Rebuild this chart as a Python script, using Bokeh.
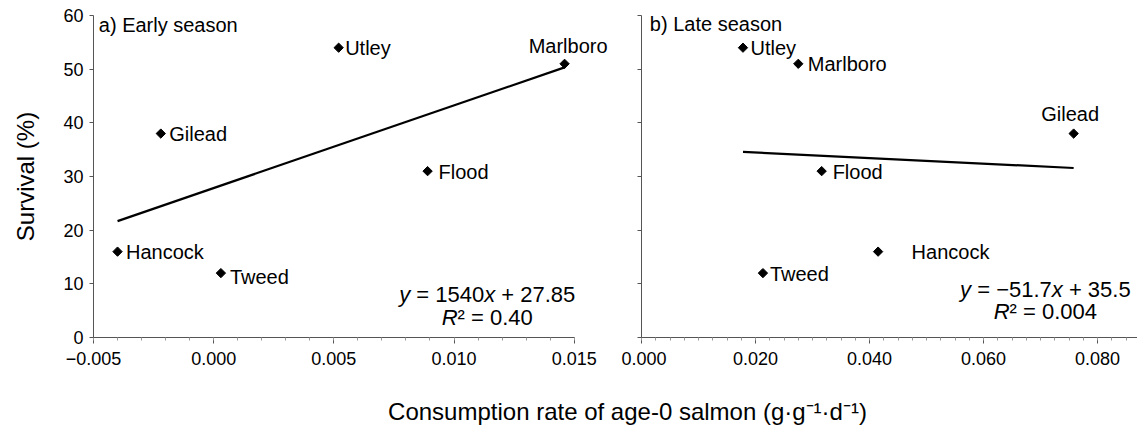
import numpy as np
from bokeh.plotting import figure
from bokeh.layouts import row, column
from bokeh.models import (Range1d, FixedTicker, CustomJSTickFormatter, Label,
                          LabelSet, ColumnDataSource)
from bokeh.core.properties import value
from bokeh.embed import file_html
from bokeh.resources import INLINE

# ---------------- data ----------------
sites = ["Hancock", "Gilead", "Tweed", "Utley", "Flood", "Marlboro"]
early_rate = [-0.0040, -0.0022, 0.0003, 0.0052, 0.0089, 0.0146]
early_survival = [16, 38, 12, 54, 31, 51]
late_rate = [0.0415, 0.0758, 0.0213, 0.0178, 0.0316, 0.0275]
late_survival = [16, 38, 12, 54, 31, 51]
early_slope, early_intercept = 1540.0, 27.85
late_slope, late_intercept = -51.7, 35.5
# equation text pieces: (text, italic?)
early_eq = [[("y", True), (" = 1540", False), ("x", True), (" + 27.85", False)],
            [("R", True), ("² = 0.40", False)]]
late_eq = [[("y", True), (" = −51.7", False), ("x", True), (" + 35.5", False)],
           [("R", True), ("² = 0.004", False)]]
early_xticks = [-0.005, 0.000, 0.005, 0.010, 0.015]
late_xticks = [0.000, 0.020, 0.040, 0.060, 0.080]
y_ticks = [0, 10, 20, 30, 40, 50, 60]
panel_titles = ["a) Early season", "b) Late season"]
y_label = "Survival (%)"
x_label = "Consumption rate of age-0 salmon (g·g⁻¹·d⁻¹)"

# ---------------- styling / layout ----------------
FONT = "Liberation Sans"
AX = "#555555"
MINOR = "#999999"
EQ_SIZE = 22
# Arial-metric advance widths (per 1000 em) for equation characters
ADV = {d: 556 for d in "0123456789"}
ADV.update({".": 278, " ": 278, "=": 584, "+": 584, "−": 584, "y": 500,
            "x": 500, "R": 722, "²": 333})

# label offsets (px): dx, dy (up positive), align
early_lab = {"Hancock": (8.5, 0, "left"), "Gilead": (8.5, 0, "left"),
             "Tweed": (9, -4, "left"), "Utley": (6.5, 0, "left"),
             "Flood": (11, -1, "left"), "Marlboro": (3.5, 18, "center")}
late_lab = {"Hancock": (33.5, 0, "left"), "Gilead": (-3.5, 20, "center"),
            "Tweed": (7, -1, "left"), "Utley": (7.5, 0, "left"),
            "Flood": (11, -1, "left"), "Marlboro": (9.5, 0, "left")}

fmt = CustomJSTickFormatter(code="""
    const v = Math.abs(tick) < 1e-12 ? 0 : tick;
    return (v < 0 ? '\\u2212' : '') + Math.abs(v).toFixed(3);
""")


def seg_width(s):
    return sum(ADV.get(c, 556) for c in s) * EQ_SIZE / 1000.0


def add_equation(p, lines, cx, ys):
    for pieces, yy in zip(lines, ys):
        total = sum(seg_width(t) for t, _ in pieces)
        off = -total / 2.0
        for t, ital in pieces:
            lead = len(t) - len(t.lstrip(" "))
            off += seg_width(" " * lead)
            core = t.strip(" ")
            p.add_layout(Label(x=cx, y=yy, x_offset=off, text=core,
                               text_font=FONT,
                               text_font_size=f"{EQ_SIZE}px",
                               text_font_style="italic" if ital else "normal",
                               text_baseline="middle", text_align="left",
                               text_color="black"))
            off += seg_width(t.lstrip(" "))


def make_panel(rate, surv, slope, intercept, eq, eq_pos, title, title_pos,
               xr, xbounds, xticks, minor_step, width, bl, br, offsets,
               show_y):
    p = figure(width=width, height=398, x_range=Range1d(*xr),
               y_range=Range1d(0, 60), output_backend="svg",
               toolbar_location=None, min_border_left=bl, min_border_right=br,
               min_border_top=15, min_border_bottom=61,
               outline_line_color=None, background_fill_color="white",
               border_fill_color="white")
    p.grid.visible = False

    minors = np.round(np.arange(xbounds[0], xbounds[1] + 1e-9, minor_step),
                      5).tolist()
    p.xaxis.bounds = xbounds
    p.xaxis.ticker = FixedTicker(ticks=xticks, minor_ticks=minors)
    p.xaxis.formatter = fmt
    p.xaxis.major_tick_out = 6
    p.xaxis.major_tick_in = 0
    p.xaxis.minor_tick_out = 3
    p.xaxis.minor_tick_in = 0
    p.xaxis.major_label_standoff = 8

    p.yaxis.ticker = FixedTicker(ticks=y_ticks, minor_ticks=[])
    p.yaxis.major_tick_out = 4
    p.yaxis.major_tick_in = 0
    p.yaxis.major_label_standoff = 6
    if not show_y:
        p.yaxis.formatter = CustomJSTickFormatter(code="return ''")
    else:
        p.yaxis.axis_label = y_label
        p.yaxis.axis_label_text_font_style = "normal"
        p.yaxis.axis_label_text_font_size = "24px"
        p.yaxis.axis_label_text_font = FONT
        p.yaxis.axis_label_text_color = "black"
        p.yaxis.axis_label_standoff = 21

    for ax in (p.xaxis, p.yaxis):
        ax.axis_line_color = AX
        ax.major_tick_line_color = AX
        ax.minor_tick_line_color = MINOR
        ax.major_label_text_font = FONT
        ax.major_label_text_font_size = "18px"
        ax.major_label_text_color = "black"

    # regression line over the data extent
    xs = np.array([min(rate), max(rate)])
    p.line(xs, slope * xs + intercept, line_color="black", line_width=2.2)

    src = ColumnDataSource(dict(
        x=rate, y=surv, name=sites,
        dx=[offsets[s][0] for s in sites],
        dy=[offsets[s][1] for s in sites],
        align=[offsets[s][2] for s in sites]))
    p.scatter("x", "y", source=src, marker="square", angle=np.pi / 4,
              size=6.6, fill_color="black", line_color="black")
    p.add_layout(LabelSet(x="x", y="y", text="name", source=src,
                          x_offset="dx", y_offset="dy", text_align="align",
                          text_baseline="middle", text_font=value(FONT),
                          text_font_size=value("20px"),
                          text_color=value("black")))

    p.add_layout(Label(x=title_pos[0], y=title_pos[1], text=title,
                       text_font=FONT, text_font_size="20px",
                       text_baseline="middle", text_align="left",
                       text_color="black"))
    add_equation(p, eq, eq_pos[0], eq_pos[1])
    return p


pa = make_panel(early_rate, early_survival, early_slope, early_intercept,
                early_eq, (0.01138, (8.1, 3.7)), panel_titles[0],
                (-0.00478, 58.3), (-0.005, 0.01651), (-0.005, 0.015),
                early_xticks, 0.001, 621, 93, 11, early_lab, True)
pb = make_panel(late_rate, late_survival, late_slope, late_intercept,
                late_eq, (0.07084, (8.95, 4.85)), panel_titles[1],
                (0.00146, 58.4), (0.0, 0.0870), (0.0, 0.0870),
                late_xticks, 0.0025, 516, 20, 0, late_lab, False)

pl = figure(width=1137, height=27, x_range=Range1d(0, 1137),
            y_range=Range1d(0, 27), output_backend="svg",
            toolbar_location=None, min_border=0, outline_line_color=None,
            x_axis_location=None, y_axis_location=None)
pl.grid.visible = False
pl.add_layout(Label(x=627, y=14, text=x_label, text_font=FONT,
                    text_font_size="24px", text_align="center",
                    text_baseline="middle", text_color="black"))

layout = column(row(pa, pb), pl)
open("out.html", "w").write(file_html(layout, INLINE))
